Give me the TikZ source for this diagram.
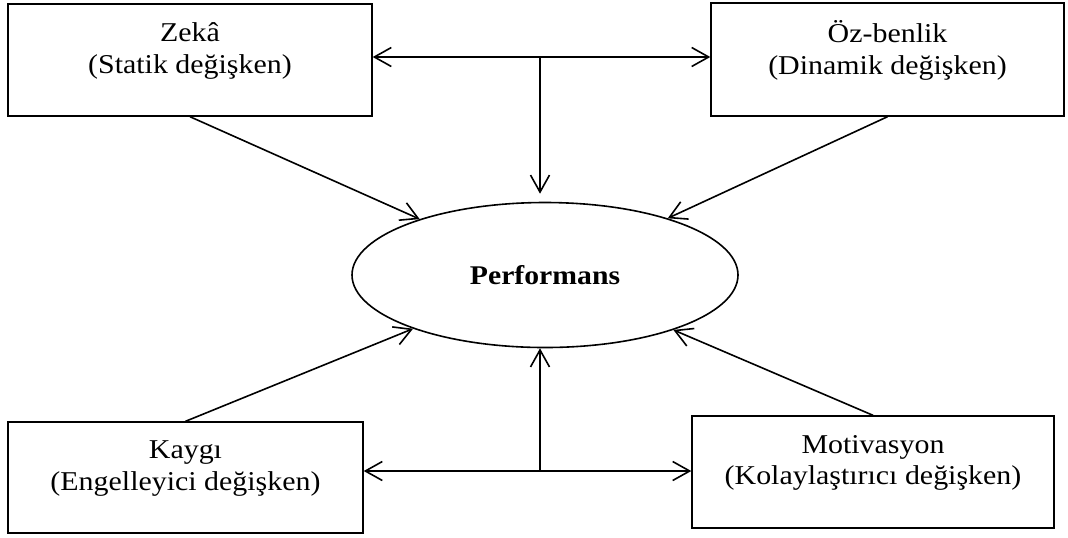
\documentclass[tikz,border=0pt]{standalone}
\usepackage{fontspec}
\setmainfont{Liberation Serif}[FakeStretch=1.1]
\usetikzlibrary{positioning, shapes.geometric, arrows.meta}
\tikzstyle{pixelGrid} = [x = 0.5pt, y = -0.5pt]
\tikzstyle{variableBox} = [draw, line width = 0.7pt, align = center, inner sep = 0pt, text depth = 12pt, font = \fontsize{13.6}{15.8}\selectfont]
\tikzstyle{outcomeEllipse} = [draw, ellipse, line width = 0.8pt, inner sep = 0pt, minimum width = 193pt, minimum height = 72.5pt, font = \fontsize{13.5}{16}\selectfont\bfseries]
\tikzstyle{influence} = [line width = 0.8pt, -{Straight Barb[length = 8.5pt, width = 9.5pt]}]
\tikzstyle{mutual} = [line width = 0.8pt, {Straight Barb[length = 8.5pt, width = 9.5pt]}-{Straight Barb[length = 8.5pt, width = 9.5pt]}]

\begin{document}
\begin{tikzpicture}[pixelGrid]
            \useasboundingbox (0,0) rectangle (1068,537);
            % variables
            \node [variableBox, minimum width = 182pt, minimum height = 56pt] (zeka) at (190,60) {Zekâ\\(Statik değişken)};
            \node [variableBox, minimum width = 176.5pt, minimum height = 56.5pt] (ozBenlik) at (887.5,59.5) {Öz-benlik\\(Dinamik değişken)};
            \node [variableBox, minimum width = 177.5pt, minimum height = 55.5pt] (kaygi) at (185.5,477.5) {Kaygı\\(Engelleyici değişken)};
            \node [variableBox, minimum width = 181pt, minimum height = 56pt] (motivasyon) at (873,472) {Motivasyon\\(Kolaylaştırıcı değişken)};
            \node [outcomeEllipse] (performans) at (545,275) {Performans};

            % joints
            \coordinate (topJoint) at (540,57);
            \coordinate (bottomJoint) at (540,471);

            \draw [mutual] (topJoint -| zeka.east) -- (topJoint -| ozBenlik.west);
            \draw [influence, shorten >= 4pt] (topJoint) -- (topJoint |- performans.north);
            \draw [mutual] (bottomJoint -| kaygi.east) -- (bottomJoint -| motivasyon.west);
            \draw [influence] (bottomJoint) -- (bottomJoint |- performans.south);

            \draw [influence] (zeka.south) -- (performans);
            \draw [influence] (ozBenlik.south) -- (performans);
            \draw [influence] (kaygi.north) -- (performans);
            \draw [influence] (motivasyon.north) -- (performans);
          \end{tikzpicture}
\end{document}
